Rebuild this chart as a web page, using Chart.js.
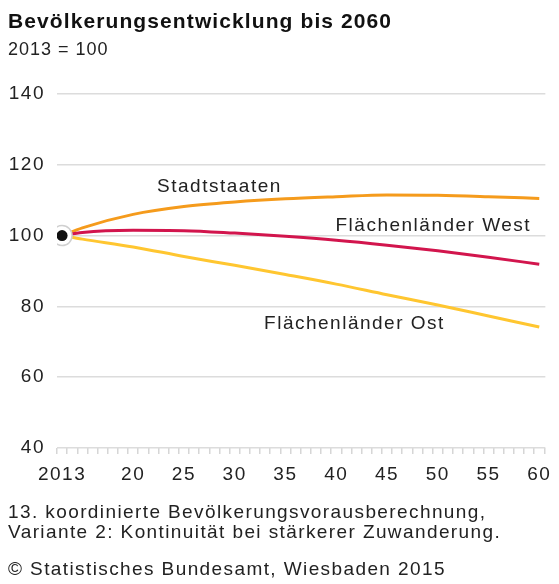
<!DOCTYPE html>
<html>
<head>
<meta charset="utf-8">
<script src="https://cdn.jsdelivr.net/npm/chart.js@4/dist/chart.umd.min.js"></script>
<style>
  body { margin: 0; background: #fff; font-family: "Liberation Sans", Arial, sans-serif; color: #222; }
  #wrap { position: relative; width: 559px; height: 584px; overflow: hidden; }
  canvas { position: absolute; left: 0; top: 0; }
  .txt { position: absolute; left: 8px; white-space: nowrap; }
  #title { top: 9px; font-size: 21px; line-height: 24px; font-weight: bold; letter-spacing: 1.1px; color: #111; }
  #sub { top: 39px; font-size: 18px; line-height: 20px; letter-spacing: 1px; }
  #note { top: 502px; font-size: 19px; line-height: 20px; letter-spacing: 1.4px; }
  #src { top: 558px; font-size: 19px; line-height: 21px; letter-spacing: 1.4px; }
</style>
</head>
<body>
<div id="wrap">
  <canvas id="chart" width="559" height="584"></canvas>
  <div class="txt" id="title">Bevölkerungsentwicklung bis 2060</div>
  <div class="txt" id="sub">2013 = 100</div>
  <div class="txt" id="note">13. koordinierte Bevölkerungsvorausberechnung,<br>Variante 2: Kontinuität bei stärkerer Zuwanderung.</div>
  <div class="txt" id="src">© Statistisches Bundesamt, Wiesbaden 2015</div>
</div>
<script>
// years and index values (2013 = 100)
const years = [2013, 2015, 2020, 2025, 2030, 2035, 2040, 2045, 2050, 2055, 2060]
const stadtstaaten = [100, 102.2, 106.0, 108.2, 109.5, 110.4, 111.0, 111.5, 111.4, 111.0, 110.5]
const west = [100, 100.9, 101.5, 101.4, 100.7, 99.8, 98.7, 97.3, 95.7, 93.9, 91.9]
const ost = [100, 99.0, 96.8, 94.1, 91.6, 89.0, 86.3, 83.3, 80.4, 77.3, 74.2]

const seriesNames = ['Stadtstaaten', 'Flächenländer West', 'Flächenländer Ost']
const seriesColors = ['#f59b1c', '#d2154d', '#ffc630']

const yTicks = [40, 60, 80, 100, 120, 140]
const xLabelYears = [2013, 2020, 2025, 2030, 2035, 2040, 2045, 2050, 2055, 2060]

// where the series names sit (year, value, alignment)
const nameSpots = [
    { x: 2028.5, y: 112.4, align: 'center' },
    { x: 2059.2, y: 101.3, align: 'right' },
    { x: 2050.7, y: 73.5, align: 'right' }
]

const toPoints = (vals) => years.map((yr, i) => ({ x: yr, y: vals[i] }))

const FONT = '"Liberation Sans", Arial, sans-serif'

const nameLabels = {
    id: 'nameLabels',
    beforeDraw(chart) {
        chart.ctx.letterSpacing = '1.5px'
    },
    afterDatasetsDraw(chart) {
        const ctx = chart.ctx
        const xs = chart.scales.x
        const ys = chart.scales.y
        ctx.save()
        ctx.letterSpacing = '1.5px'
        ctx.font = '19px ' + FONT
        ctx.fillStyle = '#222'
        ctx.textBaseline = 'alphabetic'
        nameSpots.forEach((s, i) => {
            ctx.textAlign = s.align
            ctx.fillText(seriesNames[i], xs.getPixelForValue(s.x), ys.getPixelForValue(s.y))
        })
        ctx.restore()
    }
}

const lineDs = (i, vals) => ({
    label: seriesNames[i],
    data: toPoints(vals),
    borderColor: seriesColors[i],
    borderWidth: 3,
    pointRadius: 0,
    fill: false,
    cubicInterpolationMode: 'monotone',
    order: 4 - i
})

new Chart(document.getElementById('chart').getContext('2d'), {
    type: 'line',
    data: {
        datasets: [
            lineDs(0, stadtstaaten),
            lineDs(1, west),
            lineDs(2, ost),
            {
                data: [{ x: years[0], y: 100 }],
                showLine: false,
                pointRadius: 10,
                pointBackgroundColor: '#fff',
                pointBorderColor: '#d0d0d0',
                pointBorderWidth: 1.5,
                order: 1
            },
            {
                data: [{ x: years[0], y: 100 }],
                showLine: false,
                pointRadius: 5.5,
                pointBackgroundColor: '#111',
                pointBorderColor: '#111',
                pointBorderWidth: 0,
                order: 0
            }
        ]
    },
    options: {
        responsive: false,
        animation: false,
        devicePixelRatio: 1,
        layout: { padding: { top: 94, right: 9, bottom: 0, left: 0 } },
        plugins: {
            legend: { display: false },
            tooltip: { enabled: false }
        },
        scales: {
            x: {
                type: 'linear',
                position: 'bottom',
                weight: 0,
                min: 2012.5,
                max: 2060.6,
                afterBuildTicks: (scale) => {
                    const t = []
                    for (let y = 2012.5; y <= 2060.5; y++) t.push({ value: y })
                    scale.ticks = t
                },
                afterFit: (scale) => { scale.height = 6 },
                ticks: { display: false },
                border: { display: false },
                grid: {
                    drawOnChartArea: false,
                    drawTicks: true,
                    tickLength: 6,
                    color: '#d6d6d6',
                    lineWidth: 1.5
                }
            },
            xl: {
                type: 'linear',
                position: 'bottom',
                weight: 1,
                min: 2012.5,
                max: 2060.6,
                afterBuildTicks: (scale) => {
                    scale.ticks = xLabelYears.map((v) => ({ value: v }))
                },
                afterFit: (scale) => { scale.height = 130 },
                ticks: {
                    autoSkip: false,
                    maxRotation: 0,
                    padding: 9,
                    color: '#222',
                    font: { family: FONT, size: 19 },
                    callback: (v) => v === 2013 ? '2013' : String(v).slice(2)
                },
                border: { display: false },
                grid: { display: false, drawTicks: false }
            },
            y: {
                min: 40,
                max: 140,
                afterBuildTicks: (scale) => {
                    scale.ticks = yTicks.map((v) => ({ value: v }))
                },
                afterFit: (scale) => { scale.width = 57 },
                ticks: {
                    padding: 12,
                    color: '#222',
                    font: { family: FONT, size: 19 }
                },
                border: { display: false },
                grid: {
                    drawTicks: false,
                    color: '#dcdcdc',
                    lineWidth: 1.5
                }
            }
        }
    },
    plugins: [nameLabels]
})
</script>
</body>
</html>
